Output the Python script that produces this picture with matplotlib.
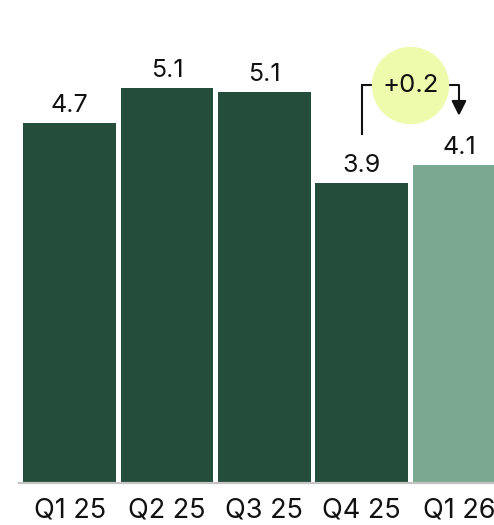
import matplotlib
matplotlib.use("Agg")
import matplotlib.pyplot as plt

# data
quarters = ["Q1 25", "Q2 25", "Q3 25", "Q4 25", "Q1 26"]
values = [4.70, 5.16, 5.11, 3.92, 4.16]
value_labels = ["4.7", "5.1", "5.1", "3.9", "4.1"]
change_label = "+0.2"

dark = "#244d3b"
light = "#7ba890"
colors = [dark, dark, dark, dark, light]

plt.rcParams['font.family'] = ['Inter', 'DejaVu Sans']

fig = plt.figure(figsize=(4.94, 5.25), dpi=100)
ax = fig.add_axes([19 / 494, 42 / 525, 475 / 494, 483 / 525])

x = list(range(len(quarters)))
ax.bar(x, values, width=0.95, color=colors, zorder=2)

# value labels above each bar
for xi, v, lab in zip(x, values, value_labels):
    ax.annotate(lab, (xi, v), xytext=(0, 8), textcoords="offset points",
                ha="center", va="baseline", fontsize=18, color="#111111")

ax.set_xlim(-0.52, 4.36)
ax.set_ylim(0, 483 / 76.5)
ax.set_xticks(x)
ax.set_xticklabels(quarters, fontsize=19.5, color="#111111")
ax.tick_params(axis="x", length=0, pad=10.5)
ax.set_yticks([])
for s in ["top", "left", "right"]:
    ax.spines[s].set_visible(False)
ax.spines["bottom"].set_color("#c4c4c4")
ax.spines["bottom"].set_linewidth(1.6)

# change bracket from Q4 25 to Q1 26
top = 5.20
ax.plot([3, 3, 3.5], [4.56, top, top], color="#111111", lw=1.5, zorder=3,
        solid_joinstyle="miter", clip_on=False)
ax.annotate("", xy=(4.0, 4.80), xytext=(3.5, top),
            arrowprops=dict(arrowstyle="-|>,head_width=0.45,head_length=0.9",
                            connectionstyle="angle,angleA=0,angleB=90,rad=0",
                            color="#111111", lw=1.5, shrinkA=0, shrinkB=0),
            zorder=3)
ax.scatter([3.5], [top], s=3100, color="#eefaac", zorder=4, linewidths=0)
ax.text(3.5, top, change_label, ha="center", va="center", fontsize=18.5,
        color="#111111", zorder=5)

fig.savefig("out.png", dpi=100)
